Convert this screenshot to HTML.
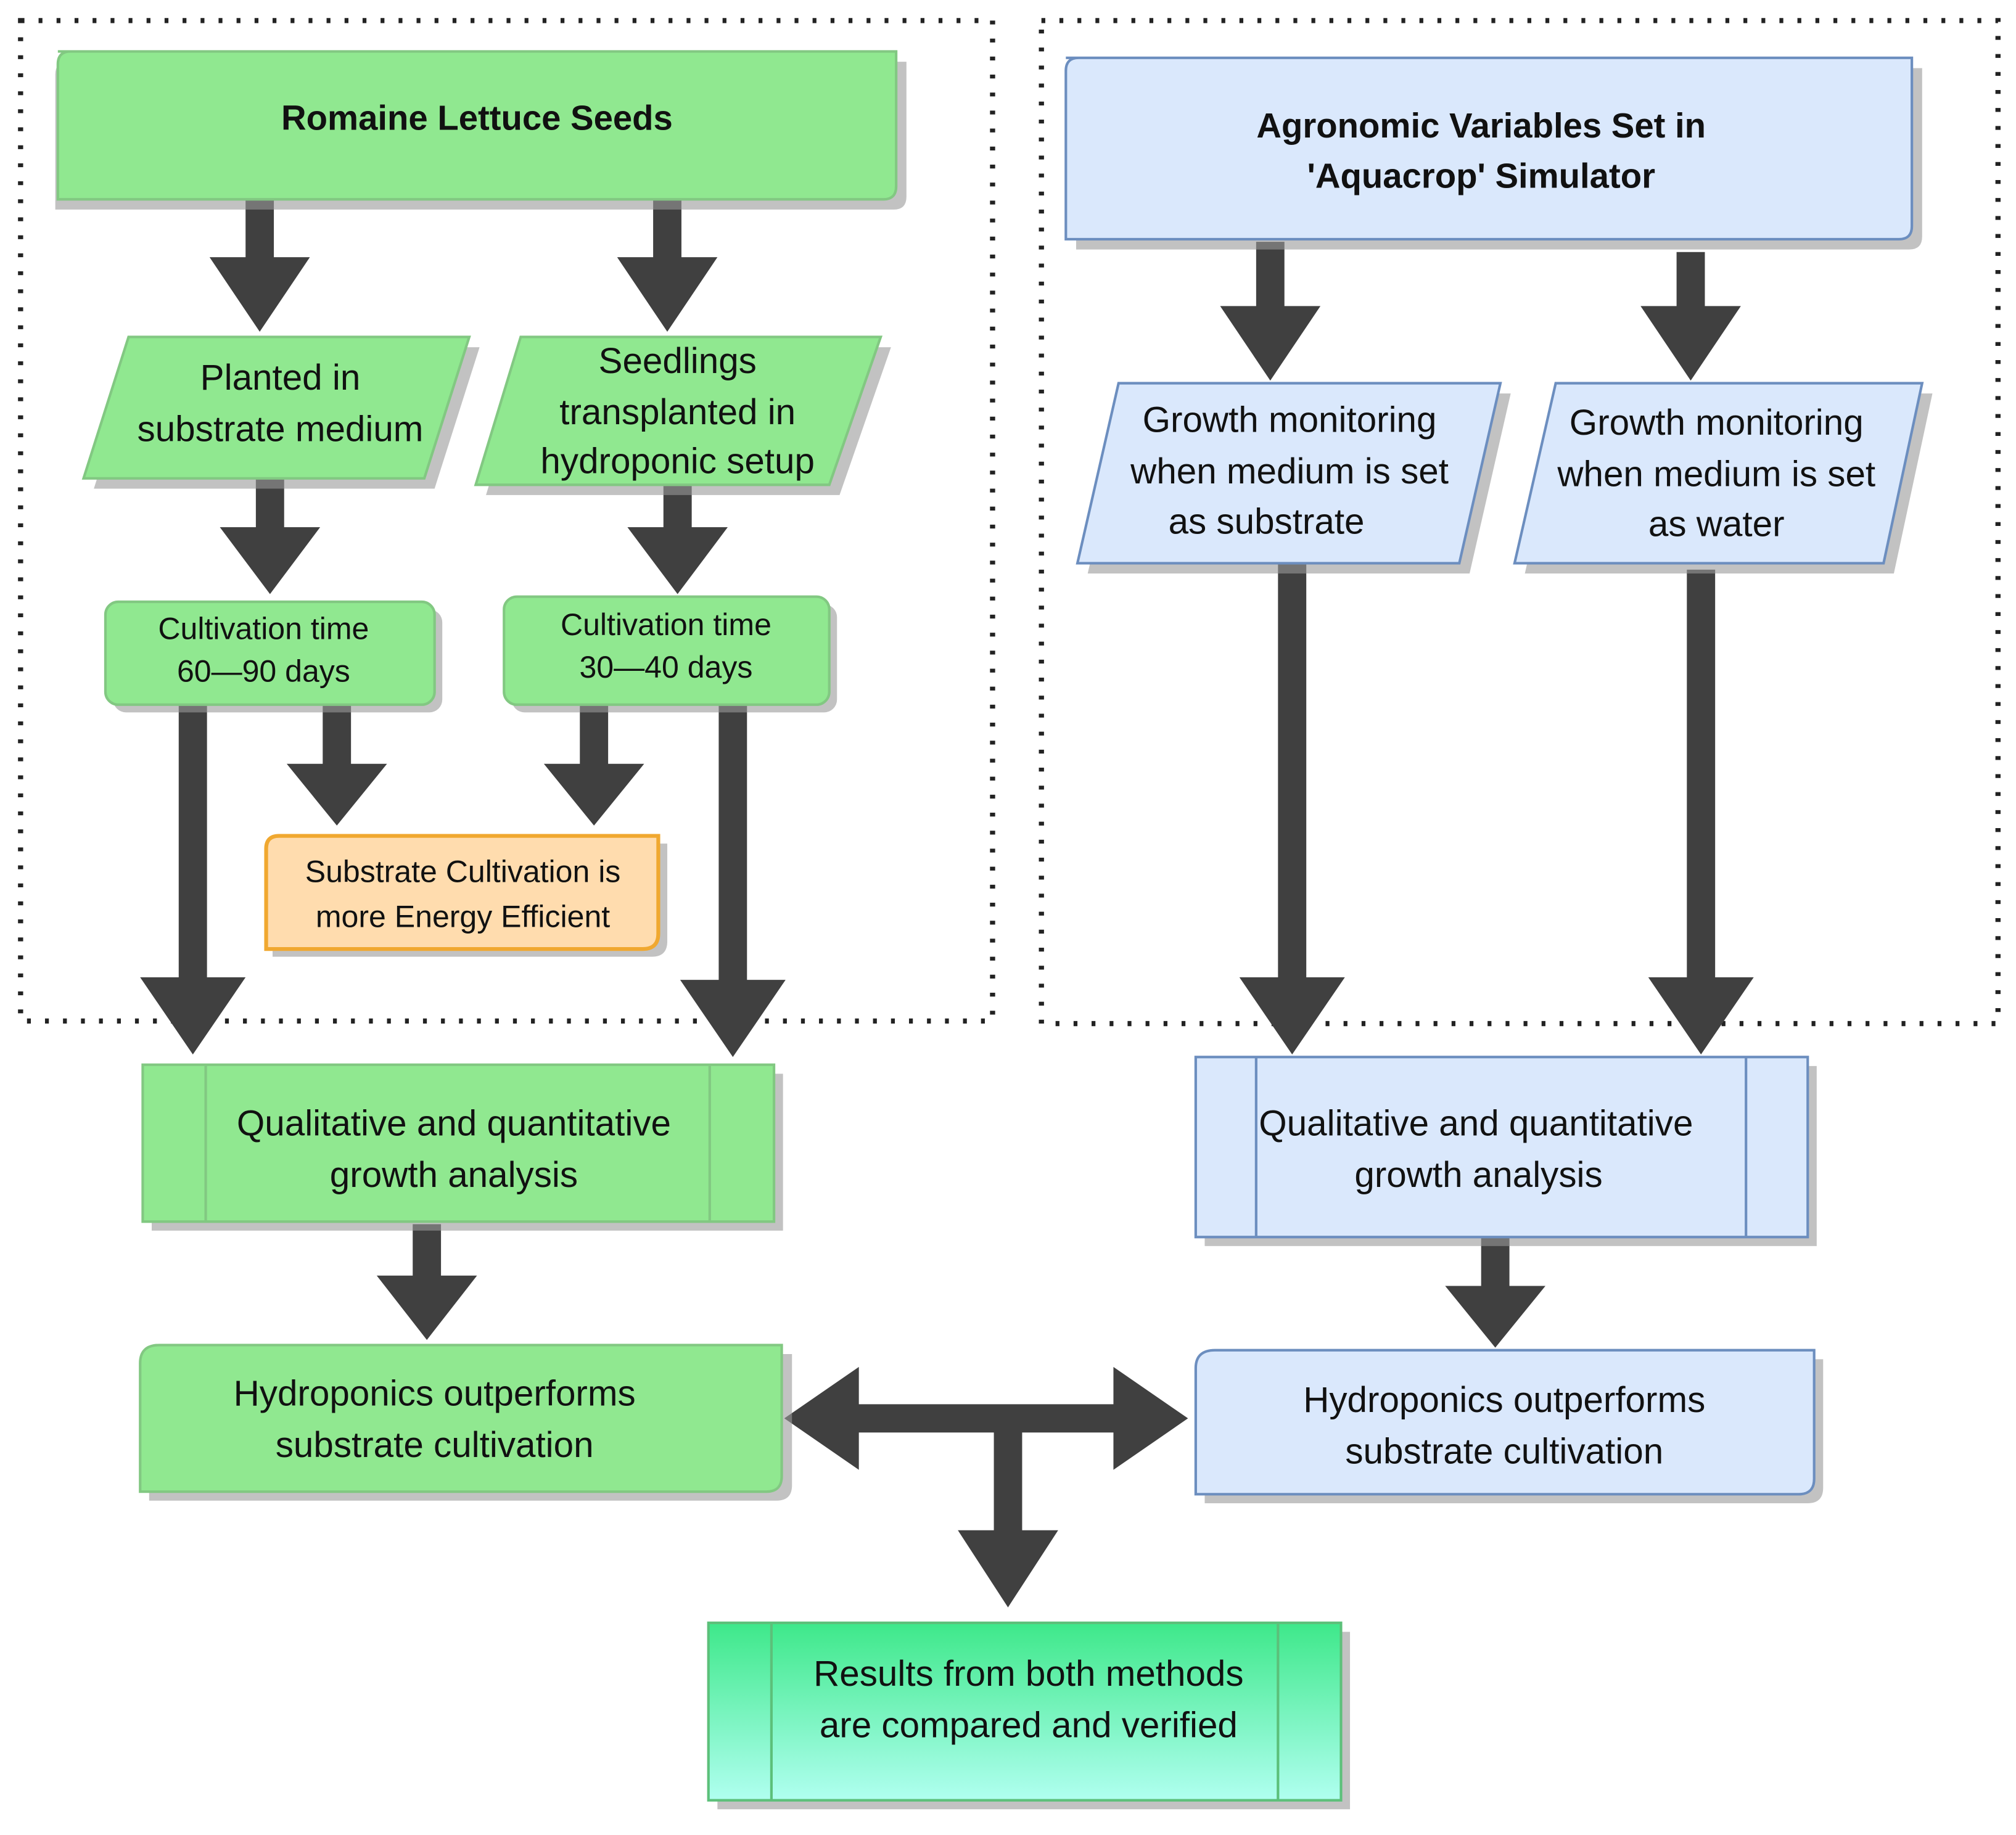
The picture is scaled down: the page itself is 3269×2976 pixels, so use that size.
<!DOCTYPE html>
<html><head><meta charset="utf-8"><style>
html,body{margin:0;padding:0;background:#fff;}
svg{display:block}
text{font-family:"Liberation Sans",sans-serif;fill:#111;text-anchor:middle}
</style></head><body>
<svg width="3269" height="2976" viewBox="0 0 1568 1427" preserveAspectRatio="none" xmlns="http://www.w3.org/2000/svg">
<defs>
<linearGradient id="rg" x1="0" y1="0" x2="0" y2="1"><stop offset="0" stop-color="#3ee88a"/><stop offset="1" stop-color="#b0fff0"/></linearGradient>
</defs>
<rect width="1568" height="1427" fill="#fff"/>
<!-- dotted containers -->
<rect x="16" y="16" width="756" height="778" fill="none" stroke="#222" stroke-width="4" stroke-dasharray="3,11"/>
<rect x="810" y="16" width="744" height="780" fill="none" stroke="#222" stroke-width="4" stroke-dasharray="3,11"/>

<g fill="#404040">
<!-- arrow helper: shaft + head -->
<!-- down arrows: x, y1, y2 -->
<path d="M191,155h22v45h28l-39,58l-39,-58h28z"/>
<path d="M508,155h22v45h28l-39,58l-39,-58h28z"/>
<path d="M199,372h22v38h28l-39,52l-39,-52h28z"/>
<path d="M516,377h22v33h28l-39,52l-39,-52h28z"/>
<path d="M139,548h22v212h30l-41,60l-41,-60h30z"/>
<path d="M251,548h22v46h28l-39,48l-39,-48h28z"/>
<path d="M451,548h22v46h28l-39,48l-39,-48h28z"/>
<path d="M559,548h22v214h30l-41,60l-41,-60h30z"/>
<path d="M321,952h22v40h28l-39,50l-39,-50h28z"/>
<path d="M977,188h22v50h28l-39,58l-39,-58h28z"/>
<path d="M1304,196h22v42h28l-39,58l-39,-58h28z"/>
<path d="M994,438h22v322h30l-41,60l-41,-60h30z"/>
<path d="M1312,443h22v317h30l-41,60l-41,-60h30z"/>
<path d="M1152,962h22v38h28l-39,48l-39,-48h28z"/>
<path d="M773,1103h22v87h28l-39,60l-39,-60h28z"/>
<!-- double arrow -->
<path d="M610,1103l58,-40v29h198v-29l58,40l-58,40v-29h-198v29z"/>
</g>

<g stroke-width="2">
<!-- Romaine -->
<path d="M53,48h652v105q0,10 -10,10h-652v-105q0,-10 10,-10z" fill="#999" stroke="none" opacity="0.6"/>
<path d="M45,40h652v105q0,10 -10,10h-642v-105q0,-10 10,-10z" fill="#90e890" stroke="#82c882"/>
<!-- Agronomic -->
<path d="M837,53h658v131q0,10 -10,10h-648v-131q0,-10 10,-10z" fill="#999" stroke="none" opacity="0.6"/>
<path d="M829,45h658v131q0,10 -10,10h-648v-131q0,-10 10,-10z" fill="#dae8fc" stroke="#6c8ebf"/>
<!-- parallelograms -->
<polygon points="108,270 373,270 338,380 73,380" fill="#999" opacity="0.6"/>
<polygon points="100,262 365,262 330,372 65,372" fill="#90e890" stroke="#82c882"/>
<polygon points="413,270 693,270 653,385 378,385" fill="#999" opacity="0.6"/>
<polygon points="405,262 685,262 645,377 370,377" fill="#90e890" stroke="#82c882"/>
<polygon points="878,306 1175,306 1143,446 846,446" fill="#999" opacity="0.6"/>
<polygon points="870,298 1167,298 1135,438 838,438" fill="#dae8fc" stroke="#6c8ebf"/>
<polygon points="1218,306 1503,306 1473,446 1186,446" fill="#999" opacity="0.6"/>
<polygon points="1210,298 1495,298 1465,438 1178,438" fill="#dae8fc" stroke="#6c8ebf"/>
<!-- cultivation boxes -->
<rect x="88" y="474" width="256" height="80" rx="10" fill="#999" opacity="0.6"/>
<rect x="82" y="468" width="256" height="80" rx="10" fill="#90e890" stroke="#82c882"/>
<rect x="398" y="470" width="253" height="84" rx="10" fill="#999" opacity="0.6"/>
<rect x="392" y="464" width="253" height="84" rx="10" fill="#90e890" stroke="#82c882"/>
<!-- orange -->
<path d="M224,656h295v76q0,12 -12,12h-295v-76q0,-12 12,-12z" fill="#999" opacity="0.6"/>
<path d="M217,650h295v76q0,12 -12,12h-293v-78q0,-10 10,-10z" fill="#ffdcae" stroke="#f0a830" stroke-width="3"/>
<!-- analysis boxes -->
<rect x="118" y="835" width="491" height="122" fill="#999" opacity="0.6"/>
<rect x="111" y="828" width="491" height="122" fill="#90e890" stroke="#82c882"/>
<line x1="160" y1="828" x2="160" y2="950" stroke="#82c882"/>
<line x1="552" y1="828" x2="552" y2="950" stroke="#82c882"/>
<rect x="937" y="829" width="476" height="140" fill="#999" opacity="0.6"/>
<rect x="930" y="822" width="476" height="140" fill="#dae8fc" stroke="#6c8ebf"/>
<line x1="977" y1="822" x2="977" y2="962" stroke="#6c8ebf"/>
<line x1="1358" y1="822" x2="1358" y2="962" stroke="#6c8ebf"/>
<!-- hydro boxes -->
<path d="M131,1053h485v102q0,12 -12,12h-488v-100q0,-14 15,-14z" fill="#999" opacity="0.6"/>
<path d="M124,1046h484v102q0,12 -12,12h-487v-100q0,-14 15,-14z" fill="#90e890" stroke="#82c882"/>
<path d="M952,1057h466v100q0,12 -12,12h-469v-98q0,-14 15,-14z" fill="#999" opacity="0.6"/>
<path d="M945,1050h466v100q0,12 -12,12h-469v-98q0,-14 15,-14z" fill="#dae8fc" stroke="#6c8ebf"/>
<!-- results -->
<rect x="558" y="1269" width="492" height="138" fill="#999" opacity="0.6"/>
<rect x="551" y="1262" width="492" height="138" fill="url(#rg)" stroke="#5cc07a"/>
<line x1="600" y1="1262" x2="600" y2="1400" stroke="#5cc07a"/>
<line x1="994" y1="1262" x2="994" y2="1400" stroke="#5cc07a"/>
</g>

<g font-size="28">
<text x="371" y="101" font-weight="bold" font-size="27">Romaine Lettuce Seeds</text>
<text x="1152" y="107" font-weight="bold" font-size="27">Agronomic Variables Set in</text>
<text x="1152" y="146" font-weight="bold" font-size="27">'Aquacrop' Simulator</text>
<text x="218" y="303">Planted in</text>
<text x="218" y="343">substrate medium</text>
<text x="527" y="290">Seedlings</text>
<text x="527" y="330">transplanted in</text>
<text x="527" y="368">hydroponic setup</text>
<text x="1003" y="336">Growth monitoring</text>
<text x="1003" y="376">when medium is set</text>
<text x="985" y="415">as substrate</text>
<text x="1335" y="338">Growth monitoring</text>
<text x="1335" y="378">when medium is set</text>
<text x="1335" y="417">as water</text>
<text x="353" y="883">Qualitative and quantitative</text>
<text x="353" y="923">growth analysis</text>
<text x="1148" y="883">Qualitative and quantitative</text>
<text x="1150" y="923">growth analysis</text>
<text x="338" y="1093">Hydroponics outperforms</text>
<text x="338" y="1133">substrate cultivation</text>
<text x="1170" y="1098">Hydroponics outperforms</text>
<text x="1170" y="1138">substrate cultivation</text>
<text x="800" y="1311">Results from both methods</text>
<text x="800" y="1351">are compared and verified</text>
</g>
<g font-size="24">
<text x="205" y="497">Cultivation time</text>
<text x="205" y="530">60—90 days</text>
<text x="518" y="494">Cultivation time</text>
<text x="518" y="527">30—40 days</text>
<text x="360" y="686">Substrate Cultivation is</text>
<text x="360" y="721">more Energy Efficient</text>
</g>
</svg>
</body></html>
